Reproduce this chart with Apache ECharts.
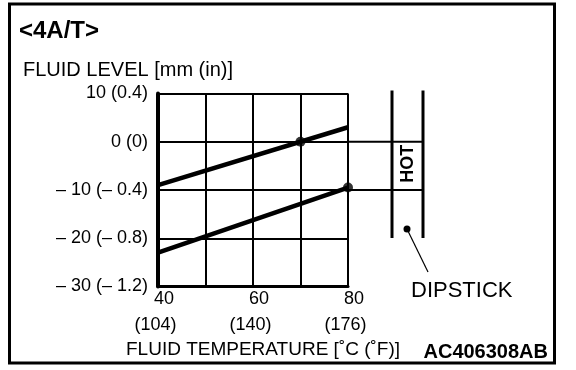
<!DOCTYPE html>
<html>
<head>
<meta charset="utf-8">
<script src="https://cdn.jsdelivr.net/npm/echarts@6/dist/echarts.min.js"></script>
<style>html,body{margin:0;padding:0;background:#fff}#c{width:576px;height:370px}</style>
</head>
<body>
<div id="c"></div>
<script>
// Data
var xTickC = {40: '40', 60: '60', 80: '80'};
var xTickF = {40: '(104)', 60: '(140)', 80: '(176)'};
var yTickLabels = {10: '10 (0.4)', 0: '0 (0)', '-10': '\u2013 10 (\u2013 0.4)', '-20': '\u2013 20 (\u2013 0.8)', '-30': '\u2013 30 (\u2013 1.2)'};
var upperLine = [[40, -9], [80, 3]];
var lowerLine = [[40, -23], [80, -9.5]];
var checkPoints = [[70, 0], [80, -9.5]];
var hotLevels = [0, -10];

var FONT = '"Liberation Sans", Arial, sans-serif';
var chart = echarts.init(document.getElementById('c'), null, {renderer: 'canvas'});
var option = {
  animation: false,
  backgroundColor: '#fff',
  grid: {left: 158, right: 228, top: 93.5, bottom: 83.5, containLabel: false},
  xAxis: {
    type: 'value', min: 40, max: 80, interval: 10,
    axisLine: {show: true, onZero: false, lineStyle: {color: '#000', width: 3}},
    axisTick: {show: false},
    splitLine: {show: true, lineStyle: {color: '#000', width: 2}},
    axisLabel: {
      color: '#000', fontFamily: FONT, fontSize: 18, lineHeight: 26, margin: 0,
      showMinLabel: true, showMaxLabel: true,
      formatter: function (v) { return xTickC[v] ? '{a|' + xTickC[v] + '}\n{b|' + xTickF[v] + '}' : ''; },
      rich: {
        a: {fontFamily: FONT, fontSize: 18, lineHeight: 26, color: '#000', padding: [0, 0, 0, 12]},
        b: {fontFamily: FONT, fontSize: 18, lineHeight: 25, color: '#000', padding: [0, 5, 0, 0]}
      }
    }
  },
  yAxis: {
    type: 'value', min: -30, max: 10, interval: 10,
    axisLine: {show: true, onZero: false, lineStyle: {color: '#000', width: 4}},
    axisTick: {show: false},
    splitLine: {show: true, lineStyle: {color: '#000', width: 2}},
    axisLabel: {
      color: '#000', fontFamily: FONT, fontSize: 18, margin: 10,
      showMinLabel: true, showMaxLabel: true,
      formatter: function (v) { return yTickLabels[v] || ''; }
    }
  },
  series: [
    {type: 'line', data: upperLine, symbol: 'none', lineStyle: {color: '#000', width: 4.5}, z: 5},
    {type: 'line', data: lowerLine, symbol: 'none', lineStyle: {color: '#000', width: 4.5}, z: 5},
    {type: 'scatter', data: checkPoints, symbol: 'circle', symbolSize: 10, itemStyle: {color: '#000'}, z: 6}
  ]
};
chart.setOption(option);

// Decorations positioned from the axes
var xr = chart.convertToPixel({xAxisIndex: 0}, 80);
var y0 = chart.convertToPixel({yAxisIndex: 0}, hotLevels[0]);
var y1 = chart.convertToPixel({yAxisIndex: 0}, hotLevels[1]);
var yTop = chart.convertToPixel({yAxisIndex: 0}, 10);
var d1 = xr + 44, d2 = xr + 75;
var g = [];
g.push({type: 'rect', shape: {x: 9.5, y: 4, width: 545, height: 359}, style: {fill: null, stroke: '#000', lineWidth: 3}, silent: true});
g.push({type: 'line', shape: {x1: xr, y1: y0, x2: d2, y2: y0}, style: {stroke: '#000', lineWidth: 2}});
g.push({type: 'line', shape: {x1: xr, y1: y1, x2: d2, y2: y1}, style: {stroke: '#000', lineWidth: 2}});
g.push({type: 'line', shape: {x1: d1, y1: yTop - 3, x2: d1, y2: 238}, style: {stroke: '#000', lineWidth: 3}});
g.push({type: 'line', shape: {x1: d2, y1: yTop - 3, x2: d2, y2: 238}, style: {stroke: '#000', lineWidth: 3}});
g.push({type: 'text', x: (d1 + d2) / 2 + 0.5, y: (y0 + y1) / 2 - 2, rotation: Math.PI / 2,
  style: {text: 'HOT', font: 'bold 18px ' + FONT, fill: '#000', align: 'center', verticalAlign: 'middle'}});
g.push({type: 'circle', shape: {cx: 407, cy: 229, r: 3.5}, style: {fill: '#000'}});
g.push({type: 'line', shape: {x1: 407, y1: 229, x2: 428, y2: 272}, style: {stroke: '#000', lineWidth: 1.2}});
g.push({type: 'text', x: 19, y: 31, style: {text: '<4A/T>', font: 'bold 24px ' + FONT, fill: '#000', verticalAlign: 'middle'}});
g.push({type: 'text', x: 23, y: 70, style: {text: 'FLUID LEVEL [mm (in)]', font: '20px ' + FONT, fill: '#000', verticalAlign: 'middle'}});
g.push({type: 'text', x: 411, y: 291, style: {text: 'DIPSTICK', font: '22px ' + FONT, fill: '#000', verticalAlign: 'middle'}});
g.push({type: 'text', x: 126, y: 350, style: {text: 'FLUID TEMPERATURE [\u02daC (\u02daF)]', font: '19px ' + FONT, fill: '#000', verticalAlign: 'middle'}});
g.push({type: 'text', x: 548, y: 352, style: {text: 'AC406308AB', font: 'bold 20px ' + FONT, fill: '#000', align: 'right', verticalAlign: 'middle'}});
chart.setOption({graphic: g});
</script>
</body>
</html>
